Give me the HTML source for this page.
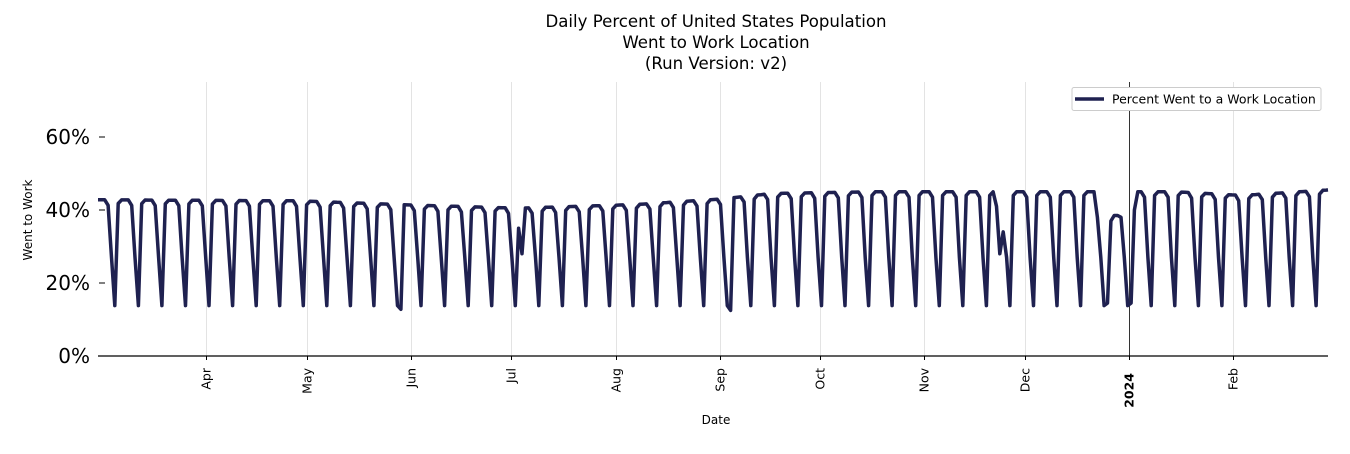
<!DOCTYPE html>
<html><head><meta charset="utf-8"><style>
body{margin:0;background:#fff;font-family:"DejaVu Sans","Liberation Sans",sans-serif;}
svg text{font-family:"DejaVu Sans","Liberation Sans",sans-serif;}
</style></head><body>
<svg id="s" width="1350" height="450" xmlns="http://www.w3.org/2000/svg">
<rect width="1350" height="450" fill="#fff"/>
<text x="716" y="27" font-size="16.6" text-anchor="middle">Daily Percent of United States Population</text>
<text x="716" y="48" font-size="16.6" text-anchor="middle">Went to Work Location</text>
<text x="716" y="69" font-size="16.6" text-anchor="middle">(Run Version: v2)</text>
<g id="grid" stroke="#e3e3e3" stroke-width="1"></g>
<line x1="1129.5" y1="82" x2="1129.5" y2="356" stroke="#333" stroke-width="1"/>
<g font-size="20">
<text x="90" y="144" text-anchor="end">60%</text><line x1="99" y1="137" x2="105" y2="137" stroke="#000"/>
<text x="90" y="217" text-anchor="end">40%</text><line x1="99" y1="210" x2="105" y2="210" stroke="#000"/>
<text x="90" y="290" text-anchor="end">20%</text><line x1="99" y1="283" x2="105" y2="283" stroke="#000"/>
<text x="90" y="363" text-anchor="end">0%</text>
</g>
<text transform="translate(32,220) rotate(-90)" font-size="12" text-anchor="middle">Went to Work</text>
<text x="716" y="424" font-size="12" text-anchor="middle">Date</text>
<polyline id="pl" fill="none" stroke="#1f2150" stroke-width="3.5" stroke-linejoin="round"/>
<line x1="98" y1="356" x2="1328" y2="356" stroke="#000" stroke-width="1.3"/>
<g id="lbl" font-size="12.5"></g>
<rect x="1072" y="87.5" width="249" height="23" fill="#fff" stroke="#ccc" rx="2"/>
<line x1="1075" y1="99" x2="1104" y2="99" stroke="#1f2150" stroke-width="3.5"/>
<text x="1112" y="103.5" font-size="12.5">Percent Went to a Work Location</text>
</svg>
<script>
var ns="http://www.w3.org/2000/svg";
var months=[["Apr",206],["May",307],["Jun",411],["Jul",511],["Aug",616],["Sep",720],["Oct",820],["Nov",924],["Dec",1025],["2024",1129],["Feb",1233]];
var g=document.getElementById("grid"),l=document.getElementById("lbl");
months.forEach(function(m){
 if(m[0]!="2024"){var ln=document.createElementNS(ns,"line");ln.setAttribute("x1",m[1]+.5);ln.setAttribute("x2",m[1]+.5);ln.setAttribute("y1",82);ln.setAttribute("y2",356);g.appendChild(ln);}
 var tk=document.createElementNS(ns,"line");tk.setAttribute("x1",m[1]+.5);tk.setAttribute("x2",m[1]+.5);tk.setAttribute("y1",356);tk.setAttribute("y2",360);tk.setAttribute("stroke","#000");l.appendChild(tk);
 var t=document.createElementNS(ns,"text");var y0=(m[0]=="2024")?373:368;
 t.setAttribute("transform","translate("+(m[1]+4.5)+","+y0+") rotate(-90)");t.setAttribute("text-anchor","end");
 if(m[0]=="2024")t.setAttribute("font-weight","bold");t.textContent=m[0];l.appendChild(t);
});
var keys=[[0,42.8],[60,42.5],[95,41.3],[125,40.5],[160,41.5],[185,43],[200,44.5],[230,45],[280,45],[300,45],[320,45],[340,44],[366,45.5]];
function lev(d){for(var i=0;i<keys.length-1;i++){if(d<=keys[i+1][0]){var a=keys[i],b=keys[i+1];return a[1]+(b[1]-a[1])*(d-a[0])/(b[0]-a[0]);}}return 45.5;}
var start=new Date(2023,1,28),pts=[];
for(var d=0;d<=366;d++){
 var dt=new Date(start.getTime()+d*864e5),w=dt.getDay(),L=lev(d),v;
 if(w==0)v=13.8;else if(w==6)v=27;else if(w==5)v=L-1.5;else if(w==1)v=L-1;else v=L;
 var mo=dt.getMonth(),da=dt.getDate();
 if(mo==4&&da==29)v=12.8;
 if(mo==6&&da==3)v=35;if(mo==6&&da==4)v=28;
 if(mo==8&&da==4)v=12.5;
 if(mo==10&&da==23)v=28;if(mo==10&&da==24)v=34;if(mo==10&&da==22)v=41;
 if(mo==11&&da==25)v=14.5;if(mo==11&&da>=26&&da<=29)v=[0,37,38.5,38.5,38][da-25];
 if(mo==11&&da==22)v=38;if(mo==0&&da==1)v=14.5;if(mo==0&&da==2)v=40;
 var x=98+d*3.365;if(x>1328)x=1328;
 pts.push(x.toFixed(1)+","+(356-v*3.65).toFixed(1));
}
document.getElementById("pl").setAttribute("points",pts.join(" "));
</script>
</body></html>
